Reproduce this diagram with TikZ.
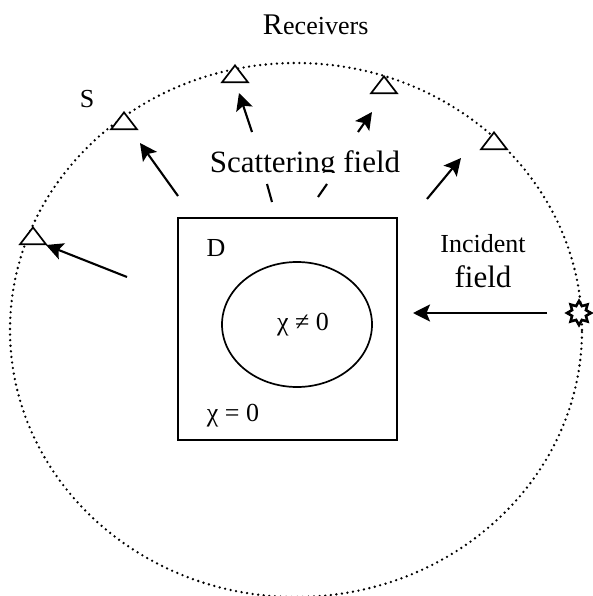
\documentclass[tikz,border=0pt]{standalone}
\usepackage{fontspec}
\setmainfont{Liberation Serif}
\usetikzlibrary{arrows.meta,positioning,shapes.geometric}

\begin{document}
\begin{tikzpicture}[x=1pt,y=-1pt,
    recv/.style={draw,fill=white,line width=1.7pt,isosceles triangle,isosceles triangle apex angle=75,shape border rotate=90,inner sep=0pt,minimum height=16pt,minimum width=26pt,anchor=apex},
    wave/.style={-{Stealth[length=17pt,width=17pt,inset=3.5pt]},line width=2.1pt},
    stub/.style={line width=2.1pt},
    lbl/.style={anchor=base,inner sep=0pt,font=\fontsize{26}{28}\selectfont},
    big/.style={anchor=base,inner sep=0pt,font=\fontsize{31}{34}\selectfont}]
  \useasboundingbox (0,0) rectangle (593,596);
  \fill[white] (0,0) rectangle (593,596);
  \node[draw,ellipse,dash pattern=on 0pt off 5.6pt,line cap=round,line width=2.6pt,minimum width=572pt,minimum height=534pt,inner sep=0pt] (S) at (296,330) {};

  \node[draw,line width=1.7pt,minimum width=219pt,minimum height=222pt,inner sep=0pt] (D) at (287.5,329) {};
  \node[draw,ellipse,line width=1.7pt,minimum width=150pt,minimum height=125pt,inner sep=0pt] (obj) at (297,324.5) {};

  \node[recv] (r1) at (33,226) {};
  \node[recv] (r2) at (124,111) {};
  \node[recv] (r3) at (235,64) {};
  \node[recv] (r4) at (384,75) {};
  \node[recv] (r5) at (494,131) {};
  \node[draw,fill=white,line width=2.6pt,star,star points=8,star point ratio=1.6,inner sep=0pt,minimum size=24pt] (src) at (579,313) {};

  \node[lbl,font=\fontsize{30}{32}\selectfont,anchor=base east] (rtitle) at (283,35) {R};
  \node[lbl,anchor=base west] (rtitle2) at (283,35) {eceivers};
  \node[lbl] (slabel) at (87,108) {S};
  \node[big] (scat) at (305,172) {Scattering field};
  \fill[white] (205,173) rectangle (405,183);
  \node[lbl] (inc) at (483,252) {Incident};
  \node[big] (fld) at (483,287) {field};
  \node[lbl] (dlabel) at (216,256) {D};
  \node[lbl] (chi1) at (303,330) {χ ≠ 0};
  \node[lbl] (chi0) at (233,421) {χ = 0};

  \coordinate (a1) at (127,277);
  \coordinate (b1) at (46,245);
  \coordinate (a2) at (178,196);
  \coordinate (b2) at (140,143);
  \coordinate (a3) at (252,132);
  \coordinate (b3) at (239,93);
  \coordinate (a4) at (358,132);
  \coordinate (b4) at (372,112);
  \coordinate (a5) at (427,199);
  \coordinate (b5) at (461,158);
  \coordinate (a6) at (547,313);
  \coordinate (b6) at (413,313);
  \coordinate (c1) at (267,184);
  \coordinate (d1) at (272,202);
  \coordinate (c2) at (327,184);
  \coordinate (d2) at (318,197);

  \draw[wave] (a1) -- (b1);
  \draw[wave] (a2) -- (b2);
  \draw[wave] (a3) -- (b3);
  \draw[wave] (a4) -- (b4);
  \draw[wave] (a5) -- (b5);
  \draw[wave] (a6) -- (b6);
  \draw[stub] (c1) -- (d1);
  \draw[stub] (c2) -- (d2);
\end{tikzpicture}
\end{document}
